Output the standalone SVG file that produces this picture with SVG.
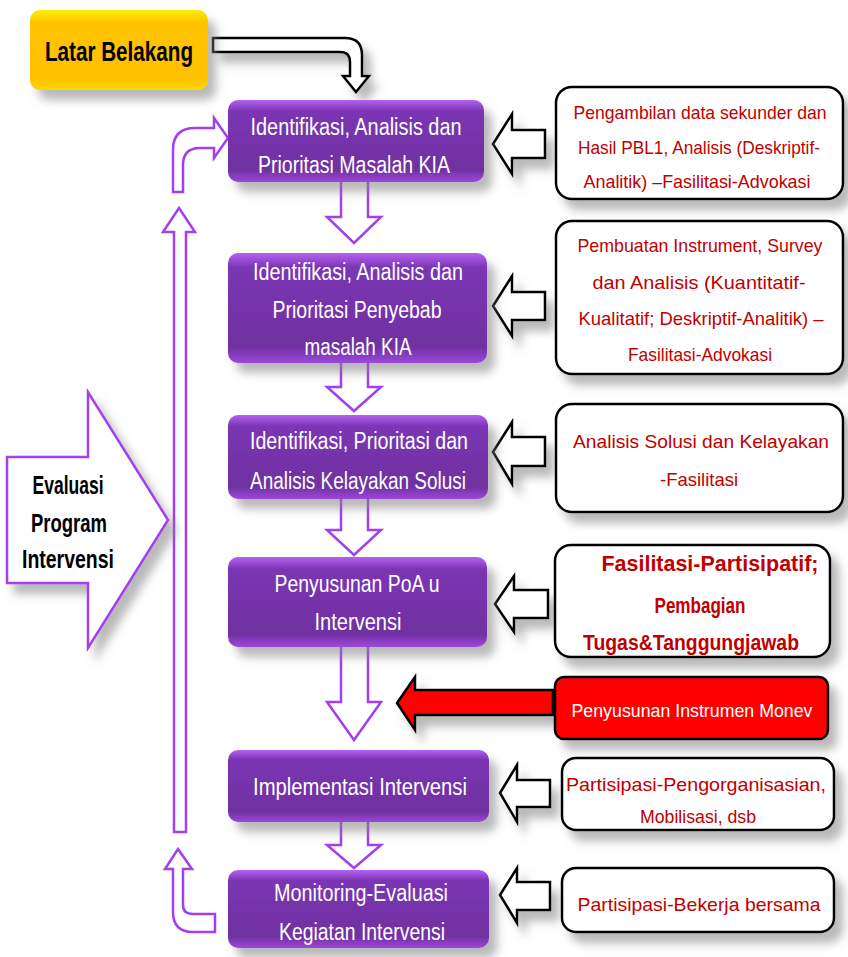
<svg xmlns="http://www.w3.org/2000/svg" width="848" height="957" viewBox="0 0 848 957">
<defs>
<linearGradient id="gPurple" x1="0" y1="0" x2="0" y2="1">
<stop offset="0" stop-color="#B562F2"/>
<stop offset="0.13" stop-color="#7B36B4"/>
<stop offset="0.85" stop-color="#7030A0"/>
<stop offset="1" stop-color="#9C48DA"/>
</linearGradient>
<linearGradient id="gYellow" x1="0" y1="0" x2="0" y2="1">
<stop offset="0" stop-color="#FFEE00"/>
<stop offset="0.15" stop-color="#FFC400"/>
<stop offset="0.85" stop-color="#FFC000"/>
<stop offset="1" stop-color="#FFD800"/>
</linearGradient>
<filter id="sh" x="-20%" y="-20%" width="150%" height="160%">
<feDropShadow dx="8" dy="10" stdDeviation="5" flood-color="#808080" flood-opacity="0.55"/>
</filter>
</defs>
<style>
.pbox{fill:url(#gPurple);filter:url(#sh)}
.wbox{fill:#fff;stroke:#000;stroke-width:2.5;filter:url(#sh)}
.parr{fill:#fff;stroke:#A33FEF;stroke-width:2.5;stroke-linejoin:miter}
.barr{fill:#fff;stroke:#000;stroke-width:2.5;filter:url(#sh)}
.pt{font-family:"Liberation Sans Narrow","Liberation Sans",Arial,sans-serif;font-size:23px;fill:#fff;text-anchor:middle}
.rt{font-family:"Liberation Sans Narrow","Liberation Sans",Arial,sans-serif;font-size:19px;fill:#C00000;text-anchor:middle}
.rtb{font-family:"Liberation Sans Narrow","Liberation Sans",Arial,sans-serif;font-size:22px;font-weight:bold;fill:#C00000;text-anchor:middle}
.bt{font-family:"Liberation Sans Narrow","Liberation Sans",Arial,sans-serif;font-weight:bold;fill:#000;text-anchor:middle}
</style>

<g id="connectors">
<path class="barr" d="M213,38 H345 Q362,38 362,55 V76 H369 L356,92 L343,76 H350 V62 Q350,52 340,52 H213 Z"/>
<path class="parr" d="M173,192 V150 Q173,128 195,128 H214 V118 L228,138 L214,158 V148 H200 Q183,148 183,165 V192 Z"/>
<path class="parr" d="M179,208 L195,232 H186 V832 H174 V232 H163 Z"/>
<path class="parr" d="M178,849 L192,869 H183 V905 Q183,914 193,914 H215 V932 H193 Q173,932 173,912 V869 H165 Z"/>
<path class="parr" d="M341,182 V217 H327 L354,243 L381,217 H368 V182"/>
<path class="parr" d="M341,363 V387 H327 L354,411 L381,387 H368 V363"/>
<path class="parr" d="M341,499 V530 H327 L354,555 L381,530 H368 V499"/>
<path class="parr" d="M341,647 V702 H327 L354,740 L381,702 H368 V647"/>
<path class="parr" d="M341,822 V845 H327 L354,868 L381,845 H368 V822"/>
<path class="barr" d="M493,144 L512,114 V130 H545 V158 H512 V174 Z"/>
<path class="barr" d="M493,306 L512,276 V292 H545 V320 H512 V336 Z"/>
<path class="barr" d="M493,452 L512,422 V437 H545 V466 H512 V484 Z"/>
<path class="barr" d="M495,604 L514,576 V590 H548 V618 H514 V632 Z"/>
<path d="M397,703 L415,677 V690 H553 V715 H415 V730 Z" fill="#FF0000" stroke="#000" stroke-width="2.5" filter="url(#sh)"/>
<path class="barr" d="M500,793 L517,765 V780 H550 V807 H517 V822 Z"/>
<path class="barr" d="M500,895 L517,868 V882 H550 V910 H517 V923 Z"/>
</g>

<g id="latar">
<rect x="30" y="10" width="178" height="80" rx="10" fill="url(#gYellow)" filter="url(#sh)"/>
<text class="bt" x="119" y="61" font-size="28" textLength="148" lengthAdjust="spacingAndGlyphs">Latar Belakang</text>
</g>

<g id="evaluasi">
<path d="M7,457 H88 V392 L168,520 L88,648 V583 H7 Z" fill="#fff" stroke="#A33FEF" stroke-width="2.5" filter="url(#sh)"/>
<text class="bt" font-size="25" x="68" y="494" textLength="71" lengthAdjust="spacingAndGlyphs">Evaluasi</text>
<text class="bt" font-size="25" x="69" y="532" textLength="76" lengthAdjust="spacingAndGlyphs">Program</text>
<text class="bt" font-size="25" x="68" y="568" textLength="92" lengthAdjust="spacingAndGlyphs">Intervensi</text>
</g>

<g id="box1">
<rect class="pbox" x="228" y="100" width="256" height="82" rx="10"/>
<text class="pt" x="356" y="135" textLength="211" lengthAdjust="spacingAndGlyphs">Identifikasi, Analisis dan</text>
<text class="pt" x="354" y="173" textLength="192" lengthAdjust="spacingAndGlyphs">Prioritasi Masalah KIA</text>
</g>
<g id="box2">
<rect class="pbox" x="228" y="253" width="259" height="110" rx="10"/>
<text class="pt" x="358" y="280" textLength="210" lengthAdjust="spacingAndGlyphs">Identifikasi, Analisis dan</text>
<text class="pt" x="357" y="318" textLength="169" lengthAdjust="spacingAndGlyphs">Prioritasi Penyebab</text>
<text class="pt" x="358" y="355" textLength="107" lengthAdjust="spacingAndGlyphs">masalah KIA</text>
</g>
<g id="box3">
<rect class="pbox" x="228" y="415" width="260" height="84" rx="10"/>
<text class="pt" x="359" y="449" textLength="218" lengthAdjust="spacingAndGlyphs">Identifikasi, Prioritasi dan</text>
<text class="pt" x="358" y="489" textLength="216" lengthAdjust="spacingAndGlyphs">Analisis Kelayakan Solusi</text>
</g>
<g id="box4">
<rect class="pbox" x="228" y="557" width="259" height="90" rx="10"/>
<text class="pt" x="357" y="592" textLength="165" lengthAdjust="spacingAndGlyphs">Penyusunan PoA u</text>
<text class="pt" x="358" y="630" textLength="87" lengthAdjust="spacingAndGlyphs">Intervensi</text>
</g>
<g id="box5">
<rect class="pbox" x="228" y="750" width="261" height="72" rx="10"/>
<text class="pt" x="360" y="795" textLength="214" lengthAdjust="spacingAndGlyphs">Implementasi Intervensi</text>
</g>
<g id="box6">
<rect class="pbox" x="228" y="870" width="261" height="78" rx="10"/>
<text class="pt" x="361" y="901" textLength="174" lengthAdjust="spacingAndGlyphs">Monitoring-Evaluasi</text>
<text class="pt" x="362" y="940" textLength="166" lengthAdjust="spacingAndGlyphs">Kegiatan Intervensi</text>
</g>

<g id="r1">
<rect class="wbox" x="556" y="87" width="287" height="112" rx="16"/>
<text class="rt" x="700" y="119" textLength="253" lengthAdjust="spacingAndGlyphs">Pengambilan data sekunder dan</text>
<text class="rt" x="699" y="154" textLength="242" lengthAdjust="spacingAndGlyphs">Hasil PBL1, Analisis (Deskriptif-</text>
<text class="rt" x="697" y="188" textLength="227" lengthAdjust="spacingAndGlyphs">Analitik) –Fasilitasi-Advokasi</text>
</g>
<g id="r2">
<rect class="wbox" x="556" y="221" width="287" height="153" rx="16"/>
<text class="rt" x="700" y="252" textLength="245" lengthAdjust="spacingAndGlyphs">Pembuatan Instrument, Survey</text>
<text class="rt" x="699" y="289" textLength="213" lengthAdjust="spacingAndGlyphs">dan Analisis (Kuantitatif-</text>
<text class="rt" x="701" y="325" textLength="245" lengthAdjust="spacingAndGlyphs">Kualitatif; Deskriptif-Analitik) –</text>
<text class="rt" x="700" y="361" textLength="144" lengthAdjust="spacingAndGlyphs">Fasilitasi-Advokasi</text>
</g>
<g id="r3">
<rect class="wbox" x="556" y="404" width="287" height="108" rx="16"/>
<text class="rt" font-size="22" x="701" y="448" textLength="256" lengthAdjust="spacingAndGlyphs">Analisis Solusi dan Kelayakan</text>
<text class="rt" font-size="22" x="699" y="486" textLength="78" lengthAdjust="spacingAndGlyphs">-Fasilitasi</text>
</g>
<g id="r4">
<rect class="wbox" x="555" y="545" width="275" height="112" rx="16"/>
<text class="rtb" x="710" y="571" textLength="217" lengthAdjust="spacingAndGlyphs">Fasilitasi-Partisipatif;</text>
<text class="rtb" x="700" y="613" textLength="91" lengthAdjust="spacingAndGlyphs">Pembagian</text>
<text class="rtb" x="691" y="650" textLength="216" lengthAdjust="spacingAndGlyphs">Tugas&amp;Tanggungjawab</text>
</g>
<g id="r5">
<rect x="555" y="677" width="273" height="62" rx="9" fill="#FF0000" stroke="#000" stroke-width="2.5" filter="url(#sh)"/>
<text class="rt" style="fill:#fff" x="692" y="717" textLength="241" lengthAdjust="spacingAndGlyphs">Penyusunan Instrumen Monev</text>
</g>
<g id="r6">
<rect class="wbox" x="562" y="758" width="272" height="72" rx="14"/>
<text class="rt" x="696" y="791" textLength="260" lengthAdjust="spacingAndGlyphs">Partisipasi-Pengorganisasian,</text>
<text class="rt" x="698" y="823" textLength="116" lengthAdjust="spacingAndGlyphs">Mobilisasi, dsb</text>
</g>
<g id="r7">
<rect class="wbox" x="562" y="868" width="272" height="64" rx="14"/>
<text class="rt" font-size="22" x="699" y="911" textLength="243" lengthAdjust="spacingAndGlyphs">Partisipasi-Bekerja  bersama</text>
</g>
</svg>
